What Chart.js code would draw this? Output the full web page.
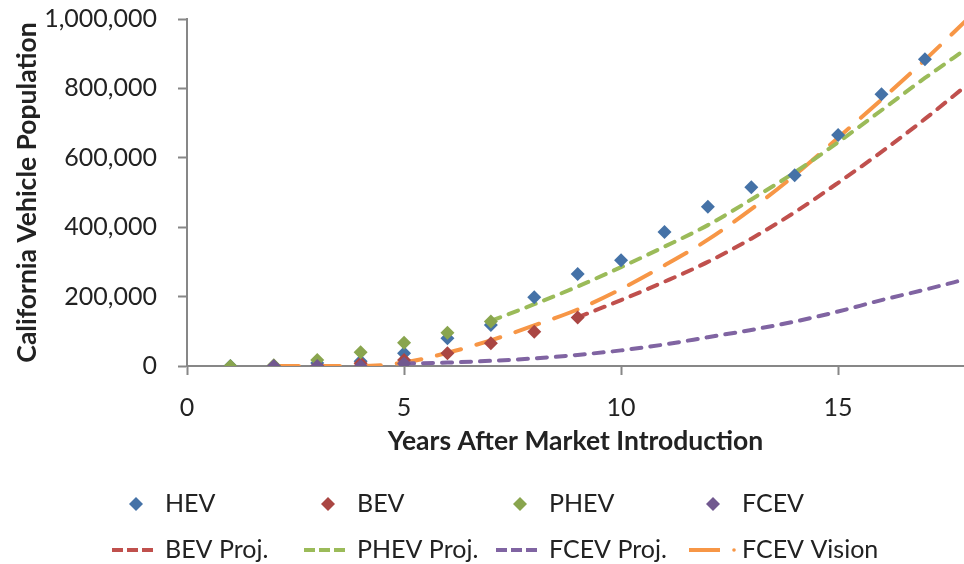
<!DOCTYPE html>
<html><head><meta charset="utf-8">
<script src="https://cdn.jsdelivr.net/npm/chart.js@4.4.1/dist/chart.umd.min.js"></script>
<style>html,body{margin:0;padding:0;background:#fff}canvas{display:block}</style>
</head><body>
<canvas id="c" width="964" height="564"></canvas>
<script>
// ---- data ----
const seriesLabels = ['HEV','BEV','PHEV','FCEV','BEV Proj.','PHEV Proj.','FCEV Proj.','FCEV Vision'];

const hevYears  = [1,2,3,4,5,6,7,8,9,10,11,12,13,14,15,16,17];
const hevValues = [0,1000,9000,14000,37000,80000,118000,198000,265000,305000,386000,459000,515000,550000,666000,783000,884000];

const bevYears  = [2,3,4,5,6,7,8,9];
const bevValues = [0,1000,8000,17000,36600,65400,99000,140000];

const phevYears  = [1,2,3,4,5,6,7];
const phevValues = [0,2000,17000,39500,67000,96000,128000];

const fcevYears  = [2,3,4,5];
const fcevValues = [0,0,0,7000];

const bevProjYears  = [9,10,11,12,13,14,15,16,17,18];
const bevProjValues = [140000,190000,243000,300000,367000,443000,528000,617000,712000,813000];

const phevProjYears  = [7,8,9,10,11,12,13,14,15,16,17,18];
const phevProjValues = [130000,178000,229000,285000,344000,406000,480000,558000,645000,737000,830000,918000];

const fcevProjYears  = [5,6,7,8,9,10,11,12,13,14,15,16,17,18];
const fcevProjValues = [7000,10000,15000,22000,32000,45000,62000,83000,104000,128000,157000,190000,220000,252000];

const visionYears  = [2,3,4,5,6,7,8,9,10,11,12,13,14,15,16,17,18];
const visionValues = [0,0,0,10000,38000,74000,117000,163000,222000,290000,364000,452000,550000,658000,768000,882000,1002000];

const xTicks = [0,5,10,15];
const yTicks = [0,200000,400000,600000,800000,1000000];

const pts = (xs, ys) => xs.map((x, i) => ({x: x, y: ys[i]}));

const markerDs = (label, xs, ys, color, order) => ({
  label, data: pts(xs, ys), showLine: false, order,
  pointStyle: 'rectRot', pointRadius: 7, pointBackgroundColor: color,
  pointBorderColor: color, pointBorderWidth: 0, backgroundColor: color, borderColor: color,
  legendKind: 'marker'
});
const lineDs = (label, xs, ys, color, dash, kind) => ({
  label, data: pts(xs, ys), showLine: true, order: 10,
  borderColor: color, backgroundColor: color, borderWidth: 4, borderDash: dash,
  borderCapStyle: 'round', pointRadius: 0, cubicInterpolationMode: 'monotone', fill: false,
  legendKind: kind
});

const datasets = [
  markerDs(seriesLabels[0], hevYears, hevValues, '#4572A7', 4),
  markerDs(seriesLabels[1], bevYears, bevValues, '#AA4643', 3),
  markerDs(seriesLabels[2], phevYears, phevValues, '#89A54E', 2),
  markerDs(seriesLabels[3], fcevYears, fcevValues, '#71588F', 1),
  lineDs(seriesLabels[4], bevProjYears, bevProjValues, '#C0504D', [10, 9], 'dash'),
  lineDs(seriesLabels[5], phevProjYears, phevProjValues, '#9BBB59', [10, 9], 'dash'),
  lineDs(seriesLabels[6], fcevProjYears, fcevProjValues, '#8064A2', [10, 9], 'dash'),
  lineDs(seriesLabels[7], visionYears, visionValues, '#F79646', [25, 16], 'dashdot')
];

const FONT = 'Lato, "Open Sans", sans-serif';
const AXIS = '#878787';

const gridLegend = {
  id: 'gridLegend',
  afterDraw(chart) {
    const ctx = chart.ctx;
    const colX = [165, 357, 549, 742];
    const rowY = [504, 550];
    ctx.save();
    chart.data.datasets.forEach((ds, i) => {
      const tx = colX[i % 4];
      const y = rowY[i < 4 ? 0 : 1];
      const c = ds.borderColor;
      if (ds.legendKind === 'marker') {
        const r = 7, cx = tx - 29;
        ctx.fillStyle = c;
        ctx.beginPath();
        ctx.moveTo(cx, y - r); ctx.lineTo(cx + r, y); ctx.lineTo(cx, y + r); ctx.lineTo(cx - r, y);
        ctx.closePath(); ctx.fill();
      } else if (ds.legendKind === 'dash') {
        ctx.strokeStyle = c; ctx.lineWidth = 4; ctx.lineCap = 'butt';
        ctx.setLineDash([11, 4]);
        ctx.beginPath(); ctx.moveTo(tx - 53, y); ctx.lineTo(tx - 10, y); ctx.stroke();
        ctx.setLineDash([]);
      } else {
        ctx.strokeStyle = c; ctx.lineWidth = 4; ctx.lineCap = 'butt';
        ctx.setLineDash([]);
        ctx.beginPath(); ctx.moveTo(tx - 53, y); ctx.lineTo(tx - 22, y); ctx.stroke();
        ctx.fillStyle = c;
        ctx.beginPath(); ctx.arc(tx - 8, y, 1.8, 0, Math.PI * 2); ctx.fill();
      }
      ctx.fillStyle = '#222';
      ctx.font = '25px ' + FONT;
      ctx.textBaseline = 'middle';
      ctx.textAlign = 'left';
      ctx.fillText(ds.label, tx, y);
    });
    ctx.restore();
  }
};

new Chart(document.getElementById('c'), {
  type: 'line',
  data: { datasets },
  plugins: [gridLegend],
  options: {
    responsive: false,
    devicePixelRatio: 1,
    animation: false,
    events: [],
    layout: { autoPadding: false, padding: { top: 19, right: 0, bottom: 103, left: 0 } },
    plugins: { legend: { display: false }, tooltip: { enabled: false } },
    scales: {
      x: {
        type: 'linear', min: 0, max: 17.9,
        afterFit: (s) => { s.height = 95; s.paddingLeft = 0; s.paddingRight = 0; },
        afterBuildTicks: (s) => { s.ticks = xTicks.map(v => ({value: v})); },
        ticks: { stepSize: 5, padding: 18, color: '#222', font: { family: FONT, size: 25 } },
        grid: { drawOnChartArea: false, drawTicks: true, tickLength: 9, tickWidth: 2, tickColor: AXIS },
        border: { display: true, color: AXIS, width: 2 },
        title: { display: true, text: 'Years After Market Introduction', color: '#222',
                 font: { family: FONT, size: 26.5, weight: 'bold' }, padding: { top: 0, bottom: 4 } }
      },
      y: {
        type: 'linear', min: 0, max: 1000000,
        afterFit: (s) => { s.width = 187; s.paddingTop = 0; s.paddingBottom = 0; },
        afterBuildTicks: (s) => { s.ticks = yTicks.map(v => ({value: v})); },
        ticks: { stepSize: 200000, padding: 21, color: '#222', font: { family: FONT, size: 25 },
                 callback: (v) => Number(v).toLocaleString('en-US') },
        grid: { drawOnChartArea: false, drawTicks: true, tickLength: 9, tickWidth: 2, tickColor: AXIS },
        border: { display: true, color: AXIS, width: 2 },
        title: { display: true, text: 'California Vehicle Population', color: '#222',
                 font: { family: FONT, size: 26.5, weight: 'bold' }, padding: { top: 12, bottom: 0 } }
      }
    }
  }
});
</script>
</body></html>
